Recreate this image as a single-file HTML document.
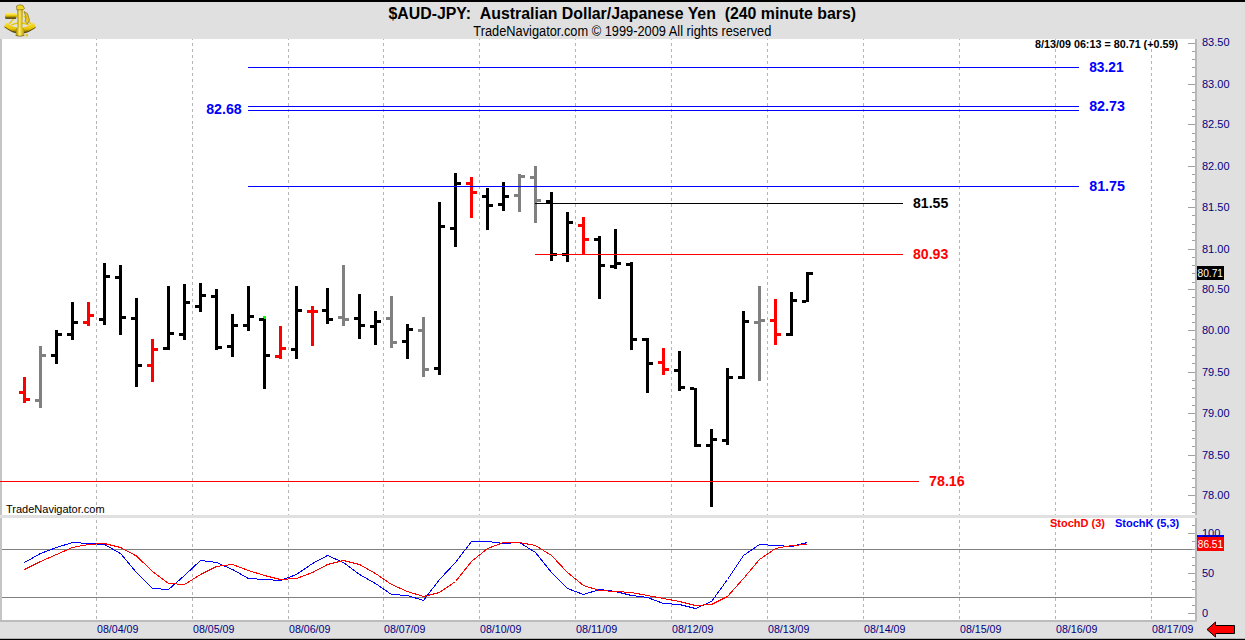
<!DOCTYPE html>
<html><head><meta charset="utf-8"><title>$AUD-JPY</title>
<style>
html,body{margin:0;padding:0;background:#e0e0e0;}
#root{position:relative;width:1245px;height:640px;overflow:hidden;background:#e0e0e0;}
svg{position:absolute;left:0;top:0;display:block;}
text{font-family:"Liberation Sans",Arial,sans-serif;white-space:pre;}
</style></head>
<body><div id="root">
<svg width="1245" height="640" viewBox="0 0 1245 640">
<g shape-rendering="crispEdges">
<rect x="0" y="0" width="1245" height="2" fill="#000"/>
<rect x="0" y="638.8" width="1245" height="1.2" fill="#000" shape-rendering="auto"/>
<rect x="2" y="39" width="1193" height="476" fill="#fff"/>
<rect x="2" y="518" width="1193" height="102" fill="#fff"/>
<rect x="0" y="39" width="2" height="581" fill="#c4c4c4"/>
<rect x="0" y="515" width="2" height="3" fill="#e0e0e0"/>
<rect x="1195" y="39" width="2" height="476" fill="#b8b8b8"/>
<rect x="1195" y="518" width="2" height="102" fill="#b8b8b8"/>
<rect x="0" y="620" width="1197" height="2" fill="#bcbcbc"/>
<path d="M96.5 39V40M96.5 43V46M96.5 49V52M96.5 55V58M96.5 61V64M96.5 67V70M96.5 73V76M96.5 79V82M96.5 85V88M96.5 91V94M96.5 97V100M96.5 103V106M96.5 109V112M96.5 115V118M96.5 121V124M96.5 126V129M96.5 132V135M96.5 138V141M96.5 144V147M96.5 150V153M96.5 156V159M96.5 162V165M96.5 168V171M96.5 174V177M96.5 180V183M96.5 186V189M96.5 192V195M96.5 198V201M96.5 204V207M96.5 210V213M96.5 216V219M96.5 222V225M96.5 228V231M96.5 234V237M96.5 240V243M96.5 246V249M96.5 252V255M96.5 258V261M96.5 264V267M96.5 270V273M96.5 276V279M96.5 282V285M96.5 288V291M96.5 293V296M96.5 299V302M96.5 305V308M96.5 311V314M96.5 317V320M96.5 323V326M96.5 329V332M96.5 335V338M96.5 341V344M96.5 347V350M96.5 353V356M96.5 359V362M96.5 365V368M96.5 371V374M96.5 377V380M96.5 383V386M96.5 389V392M96.5 395V398M96.5 401V404M96.5 407V410M96.5 413V416M96.5 419V422M96.5 425V428M96.5 431V434M96.5 437V440M96.5 443V446M96.5 449V452M96.5 455V458M96.5 460V463M96.5 466V469M96.5 472V475M96.5 478V481M96.5 484V487M96.5 490V493M96.5 496V499M96.5 502V505M96.5 508V511M96.5 514V515M96.5 520V523M96.5 526V529M96.5 532V535M96.5 538V541M96.5 544V547M96.5 550V553M96.5 556V559M96.5 562V565M96.5 568V571M96.5 574V577M96.5 580V583M96.5 586V589M96.5 592V595M96.5 598V601M96.5 604V607M96.5 610V613M96.5 616V619M192.5 39V40M192.5 43V46M192.5 49V52M192.5 55V58M192.5 61V64M192.5 67V70M192.5 73V76M192.5 79V82M192.5 85V88M192.5 91V94M192.5 97V100M192.5 103V106M192.5 109V112M192.5 115V118M192.5 121V124M192.5 126V129M192.5 132V135M192.5 138V141M192.5 144V147M192.5 150V153M192.5 156V159M192.5 162V165M192.5 168V171M192.5 174V177M192.5 180V183M192.5 186V189M192.5 192V195M192.5 198V201M192.5 204V207M192.5 210V213M192.5 216V219M192.5 222V225M192.5 228V231M192.5 234V237M192.5 240V243M192.5 246V249M192.5 252V255M192.5 258V261M192.5 264V267M192.5 270V273M192.5 276V279M192.5 282V285M192.5 288V291M192.5 293V296M192.5 299V302M192.5 305V308M192.5 311V314M192.5 317V320M192.5 323V326M192.5 329V332M192.5 335V338M192.5 341V344M192.5 347V350M192.5 353V356M192.5 359V362M192.5 365V368M192.5 371V374M192.5 377V380M192.5 383V386M192.5 389V392M192.5 395V398M192.5 401V404M192.5 407V410M192.5 413V416M192.5 419V422M192.5 425V428M192.5 431V434M192.5 437V440M192.5 443V446M192.5 449V452M192.5 455V458M192.5 460V463M192.5 466V469M192.5 472V475M192.5 478V481M192.5 484V487M192.5 490V493M192.5 496V499M192.5 502V505M192.5 508V511M192.5 514V515M192.5 520V523M192.5 526V529M192.5 532V535M192.5 538V541M192.5 544V547M192.5 550V553M192.5 556V559M192.5 562V565M192.5 568V571M192.5 574V577M192.5 580V583M192.5 586V589M192.5 592V595M192.5 598V601M192.5 604V607M192.5 610V613M192.5 616V619M288.5 39V40M288.5 43V46M288.5 49V52M288.5 55V58M288.5 61V64M288.5 67V70M288.5 73V76M288.5 79V82M288.5 85V88M288.5 91V94M288.5 97V100M288.5 103V106M288.5 109V112M288.5 115V118M288.5 121V124M288.5 126V129M288.5 132V135M288.5 138V141M288.5 144V147M288.5 150V153M288.5 156V159M288.5 162V165M288.5 168V171M288.5 174V177M288.5 180V183M288.5 186V189M288.5 192V195M288.5 198V201M288.5 204V207M288.5 210V213M288.5 216V219M288.5 222V225M288.5 228V231M288.5 234V237M288.5 240V243M288.5 246V249M288.5 252V255M288.5 258V261M288.5 264V267M288.5 270V273M288.5 276V279M288.5 282V285M288.5 288V291M288.5 293V296M288.5 299V302M288.5 305V308M288.5 311V314M288.5 317V320M288.5 323V326M288.5 329V332M288.5 335V338M288.5 341V344M288.5 347V350M288.5 353V356M288.5 359V362M288.5 365V368M288.5 371V374M288.5 377V380M288.5 383V386M288.5 389V392M288.5 395V398M288.5 401V404M288.5 407V410M288.5 413V416M288.5 419V422M288.5 425V428M288.5 431V434M288.5 437V440M288.5 443V446M288.5 449V452M288.5 455V458M288.5 460V463M288.5 466V469M288.5 472V475M288.5 478V481M288.5 484V487M288.5 490V493M288.5 496V499M288.5 502V505M288.5 508V511M288.5 514V515M288.5 520V523M288.5 526V529M288.5 532V535M288.5 538V541M288.5 544V547M288.5 550V553M288.5 556V559M288.5 562V565M288.5 568V571M288.5 574V577M288.5 580V583M288.5 586V589M288.5 592V595M288.5 598V601M288.5 604V607M288.5 610V613M288.5 616V619M383.5 39V40M383.5 43V46M383.5 49V52M383.5 55V58M383.5 61V64M383.5 67V70M383.5 73V76M383.5 79V82M383.5 85V88M383.5 91V94M383.5 97V100M383.5 103V106M383.5 109V112M383.5 115V118M383.5 121V124M383.5 126V129M383.5 132V135M383.5 138V141M383.5 144V147M383.5 150V153M383.5 156V159M383.5 162V165M383.5 168V171M383.5 174V177M383.5 180V183M383.5 186V189M383.5 192V195M383.5 198V201M383.5 204V207M383.5 210V213M383.5 216V219M383.5 222V225M383.5 228V231M383.5 234V237M383.5 240V243M383.5 246V249M383.5 252V255M383.5 258V261M383.5 264V267M383.5 270V273M383.5 276V279M383.5 282V285M383.5 288V291M383.5 293V296M383.5 299V302M383.5 305V308M383.5 311V314M383.5 317V320M383.5 323V326M383.5 329V332M383.5 335V338M383.5 341V344M383.5 347V350M383.5 353V356M383.5 359V362M383.5 365V368M383.5 371V374M383.5 377V380M383.5 383V386M383.5 389V392M383.5 395V398M383.5 401V404M383.5 407V410M383.5 413V416M383.5 419V422M383.5 425V428M383.5 431V434M383.5 437V440M383.5 443V446M383.5 449V452M383.5 455V458M383.5 460V463M383.5 466V469M383.5 472V475M383.5 478V481M383.5 484V487M383.5 490V493M383.5 496V499M383.5 502V505M383.5 508V511M383.5 514V515M383.5 520V523M383.5 526V529M383.5 532V535M383.5 538V541M383.5 544V547M383.5 550V553M383.5 556V559M383.5 562V565M383.5 568V571M383.5 574V577M383.5 580V583M383.5 586V589M383.5 592V595M383.5 598V601M383.5 604V607M383.5 610V613M383.5 616V619M479.5 39V40M479.5 43V46M479.5 49V52M479.5 55V58M479.5 61V64M479.5 67V70M479.5 73V76M479.5 79V82M479.5 85V88M479.5 91V94M479.5 97V100M479.5 103V106M479.5 109V112M479.5 115V118M479.5 121V124M479.5 126V129M479.5 132V135M479.5 138V141M479.5 144V147M479.5 150V153M479.5 156V159M479.5 162V165M479.5 168V171M479.5 174V177M479.5 180V183M479.5 186V189M479.5 192V195M479.5 198V201M479.5 204V207M479.5 210V213M479.5 216V219M479.5 222V225M479.5 228V231M479.5 234V237M479.5 240V243M479.5 246V249M479.5 252V255M479.5 258V261M479.5 264V267M479.5 270V273M479.5 276V279M479.5 282V285M479.5 288V291M479.5 293V296M479.5 299V302M479.5 305V308M479.5 311V314M479.5 317V320M479.5 323V326M479.5 329V332M479.5 335V338M479.5 341V344M479.5 347V350M479.5 353V356M479.5 359V362M479.5 365V368M479.5 371V374M479.5 377V380M479.5 383V386M479.5 389V392M479.5 395V398M479.5 401V404M479.5 407V410M479.5 413V416M479.5 419V422M479.5 425V428M479.5 431V434M479.5 437V440M479.5 443V446M479.5 449V452M479.5 455V458M479.5 460V463M479.5 466V469M479.5 472V475M479.5 478V481M479.5 484V487M479.5 490V493M479.5 496V499M479.5 502V505M479.5 508V511M479.5 514V515M479.5 520V523M479.5 526V529M479.5 532V535M479.5 538V541M479.5 544V547M479.5 550V553M479.5 556V559M479.5 562V565M479.5 568V571M479.5 574V577M479.5 580V583M479.5 586V589M479.5 592V595M479.5 598V601M479.5 604V607M479.5 610V613M479.5 616V619M575.5 39V40M575.5 43V46M575.5 49V52M575.5 55V58M575.5 61V64M575.5 67V70M575.5 73V76M575.5 79V82M575.5 85V88M575.5 91V94M575.5 97V100M575.5 103V106M575.5 109V112M575.5 115V118M575.5 121V124M575.5 126V129M575.5 132V135M575.5 138V141M575.5 144V147M575.5 150V153M575.5 156V159M575.5 162V165M575.5 168V171M575.5 174V177M575.5 180V183M575.5 186V189M575.5 192V195M575.5 198V201M575.5 204V207M575.5 210V213M575.5 216V219M575.5 222V225M575.5 228V231M575.5 234V237M575.5 240V243M575.5 246V249M575.5 252V255M575.5 258V261M575.5 264V267M575.5 270V273M575.5 276V279M575.5 282V285M575.5 288V291M575.5 293V296M575.5 299V302M575.5 305V308M575.5 311V314M575.5 317V320M575.5 323V326M575.5 329V332M575.5 335V338M575.5 341V344M575.5 347V350M575.5 353V356M575.5 359V362M575.5 365V368M575.5 371V374M575.5 377V380M575.5 383V386M575.5 389V392M575.5 395V398M575.5 401V404M575.5 407V410M575.5 413V416M575.5 419V422M575.5 425V428M575.5 431V434M575.5 437V440M575.5 443V446M575.5 449V452M575.5 455V458M575.5 460V463M575.5 466V469M575.5 472V475M575.5 478V481M575.5 484V487M575.5 490V493M575.5 496V499M575.5 502V505M575.5 508V511M575.5 514V515M575.5 520V523M575.5 526V529M575.5 532V535M575.5 538V541M575.5 544V547M575.5 550V553M575.5 556V559M575.5 562V565M575.5 568V571M575.5 574V577M575.5 580V583M575.5 586V589M575.5 592V595M575.5 598V601M575.5 604V607M575.5 610V613M575.5 616V619M671.5 39V40M671.5 43V46M671.5 49V52M671.5 55V58M671.5 61V64M671.5 67V70M671.5 73V76M671.5 79V82M671.5 85V88M671.5 91V94M671.5 97V100M671.5 103V106M671.5 109V112M671.5 115V118M671.5 121V124M671.5 126V129M671.5 132V135M671.5 138V141M671.5 144V147M671.5 150V153M671.5 156V159M671.5 162V165M671.5 168V171M671.5 174V177M671.5 180V183M671.5 186V189M671.5 192V195M671.5 198V201M671.5 204V207M671.5 210V213M671.5 216V219M671.5 222V225M671.5 228V231M671.5 234V237M671.5 240V243M671.5 246V249M671.5 252V255M671.5 258V261M671.5 264V267M671.5 270V273M671.5 276V279M671.5 282V285M671.5 288V291M671.5 293V296M671.5 299V302M671.5 305V308M671.5 311V314M671.5 317V320M671.5 323V326M671.5 329V332M671.5 335V338M671.5 341V344M671.5 347V350M671.5 353V356M671.5 359V362M671.5 365V368M671.5 371V374M671.5 377V380M671.5 383V386M671.5 389V392M671.5 395V398M671.5 401V404M671.5 407V410M671.5 413V416M671.5 419V422M671.5 425V428M671.5 431V434M671.5 437V440M671.5 443V446M671.5 449V452M671.5 455V458M671.5 460V463M671.5 466V469M671.5 472V475M671.5 478V481M671.5 484V487M671.5 490V493M671.5 496V499M671.5 502V505M671.5 508V511M671.5 514V515M671.5 520V523M671.5 526V529M671.5 532V535M671.5 538V541M671.5 544V547M671.5 550V553M671.5 556V559M671.5 562V565M671.5 568V571M671.5 574V577M671.5 580V583M671.5 586V589M671.5 592V595M671.5 598V601M671.5 604V607M671.5 610V613M671.5 616V619M767.5 39V40M767.5 43V46M767.5 49V52M767.5 55V58M767.5 61V64M767.5 67V70M767.5 73V76M767.5 79V82M767.5 85V88M767.5 91V94M767.5 97V100M767.5 103V106M767.5 109V112M767.5 115V118M767.5 121V124M767.5 126V129M767.5 132V135M767.5 138V141M767.5 144V147M767.5 150V153M767.5 156V159M767.5 162V165M767.5 168V171M767.5 174V177M767.5 180V183M767.5 186V189M767.5 192V195M767.5 198V201M767.5 204V207M767.5 210V213M767.5 216V219M767.5 222V225M767.5 228V231M767.5 234V237M767.5 240V243M767.5 246V249M767.5 252V255M767.5 258V261M767.5 264V267M767.5 270V273M767.5 276V279M767.5 282V285M767.5 288V291M767.5 293V296M767.5 299V302M767.5 305V308M767.5 311V314M767.5 317V320M767.5 323V326M767.5 329V332M767.5 335V338M767.5 341V344M767.5 347V350M767.5 353V356M767.5 359V362M767.5 365V368M767.5 371V374M767.5 377V380M767.5 383V386M767.5 389V392M767.5 395V398M767.5 401V404M767.5 407V410M767.5 413V416M767.5 419V422M767.5 425V428M767.5 431V434M767.5 437V440M767.5 443V446M767.5 449V452M767.5 455V458M767.5 460V463M767.5 466V469M767.5 472V475M767.5 478V481M767.5 484V487M767.5 490V493M767.5 496V499M767.5 502V505M767.5 508V511M767.5 514V515M767.5 520V523M767.5 526V529M767.5 532V535M767.5 538V541M767.5 544V547M767.5 550V553M767.5 556V559M767.5 562V565M767.5 568V571M767.5 574V577M767.5 580V583M767.5 586V589M767.5 592V595M767.5 598V601M767.5 604V607M767.5 610V613M767.5 616V619M863.5 39V40M863.5 43V46M863.5 49V52M863.5 55V58M863.5 61V64M863.5 67V70M863.5 73V76M863.5 79V82M863.5 85V88M863.5 91V94M863.5 97V100M863.5 103V106M863.5 109V112M863.5 115V118M863.5 121V124M863.5 126V129M863.5 132V135M863.5 138V141M863.5 144V147M863.5 150V153M863.5 156V159M863.5 162V165M863.5 168V171M863.5 174V177M863.5 180V183M863.5 186V189M863.5 192V195M863.5 198V201M863.5 204V207M863.5 210V213M863.5 216V219M863.5 222V225M863.5 228V231M863.5 234V237M863.5 240V243M863.5 246V249M863.5 252V255M863.5 258V261M863.5 264V267M863.5 270V273M863.5 276V279M863.5 282V285M863.5 288V291M863.5 293V296M863.5 299V302M863.5 305V308M863.5 311V314M863.5 317V320M863.5 323V326M863.5 329V332M863.5 335V338M863.5 341V344M863.5 347V350M863.5 353V356M863.5 359V362M863.5 365V368M863.5 371V374M863.5 377V380M863.5 383V386M863.5 389V392M863.5 395V398M863.5 401V404M863.5 407V410M863.5 413V416M863.5 419V422M863.5 425V428M863.5 431V434M863.5 437V440M863.5 443V446M863.5 449V452M863.5 455V458M863.5 460V463M863.5 466V469M863.5 472V475M863.5 478V481M863.5 484V487M863.5 490V493M863.5 496V499M863.5 502V505M863.5 508V511M863.5 514V515M863.5 520V523M863.5 526V529M863.5 532V535M863.5 538V541M863.5 544V547M863.5 550V553M863.5 556V559M863.5 562V565M863.5 568V571M863.5 574V577M863.5 580V583M863.5 586V589M863.5 592V595M863.5 598V601M863.5 604V607M863.5 610V613M863.5 616V619M959.5 39V40M959.5 43V46M959.5 49V52M959.5 55V58M959.5 61V64M959.5 67V70M959.5 73V76M959.5 79V82M959.5 85V88M959.5 91V94M959.5 97V100M959.5 103V106M959.5 109V112M959.5 115V118M959.5 121V124M959.5 126V129M959.5 132V135M959.5 138V141M959.5 144V147M959.5 150V153M959.5 156V159M959.5 162V165M959.5 168V171M959.5 174V177M959.5 180V183M959.5 186V189M959.5 192V195M959.5 198V201M959.5 204V207M959.5 210V213M959.5 216V219M959.5 222V225M959.5 228V231M959.5 234V237M959.5 240V243M959.5 246V249M959.5 252V255M959.5 258V261M959.5 264V267M959.5 270V273M959.5 276V279M959.5 282V285M959.5 288V291M959.5 293V296M959.5 299V302M959.5 305V308M959.5 311V314M959.5 317V320M959.5 323V326M959.5 329V332M959.5 335V338M959.5 341V344M959.5 347V350M959.5 353V356M959.5 359V362M959.5 365V368M959.5 371V374M959.5 377V380M959.5 383V386M959.5 389V392M959.5 395V398M959.5 401V404M959.5 407V410M959.5 413V416M959.5 419V422M959.5 425V428M959.5 431V434M959.5 437V440M959.5 443V446M959.5 449V452M959.5 455V458M959.5 460V463M959.5 466V469M959.5 472V475M959.5 478V481M959.5 484V487M959.5 490V493M959.5 496V499M959.5 502V505M959.5 508V511M959.5 514V515M959.5 520V523M959.5 526V529M959.5 532V535M959.5 538V541M959.5 544V547M959.5 550V553M959.5 556V559M959.5 562V565M959.5 568V571M959.5 574V577M959.5 580V583M959.5 586V589M959.5 592V595M959.5 598V601M959.5 604V607M959.5 610V613M959.5 616V619M1055.5 39V40M1055.5 43V46M1055.5 49V52M1055.5 55V58M1055.5 61V64M1055.5 67V70M1055.5 73V76M1055.5 79V82M1055.5 85V88M1055.5 91V94M1055.5 97V100M1055.5 103V106M1055.5 109V112M1055.5 115V118M1055.5 121V124M1055.5 126V129M1055.5 132V135M1055.5 138V141M1055.5 144V147M1055.5 150V153M1055.5 156V159M1055.5 162V165M1055.5 168V171M1055.5 174V177M1055.5 180V183M1055.5 186V189M1055.5 192V195M1055.5 198V201M1055.5 204V207M1055.5 210V213M1055.5 216V219M1055.5 222V225M1055.5 228V231M1055.5 234V237M1055.5 240V243M1055.5 246V249M1055.5 252V255M1055.5 258V261M1055.5 264V267M1055.5 270V273M1055.5 276V279M1055.5 282V285M1055.5 288V291M1055.5 293V296M1055.5 299V302M1055.5 305V308M1055.5 311V314M1055.5 317V320M1055.5 323V326M1055.5 329V332M1055.5 335V338M1055.5 341V344M1055.5 347V350M1055.5 353V356M1055.5 359V362M1055.5 365V368M1055.5 371V374M1055.5 377V380M1055.5 383V386M1055.5 389V392M1055.5 395V398M1055.5 401V404M1055.5 407V410M1055.5 413V416M1055.5 419V422M1055.5 425V428M1055.5 431V434M1055.5 437V440M1055.5 443V446M1055.5 449V452M1055.5 455V458M1055.5 460V463M1055.5 466V469M1055.5 472V475M1055.5 478V481M1055.5 484V487M1055.5 490V493M1055.5 496V499M1055.5 502V505M1055.5 508V511M1055.5 514V515M1055.5 520V523M1055.5 526V529M1055.5 532V535M1055.5 538V541M1055.5 544V547M1055.5 550V553M1055.5 556V559M1055.5 562V565M1055.5 568V571M1055.5 574V577M1055.5 580V583M1055.5 586V589M1055.5 592V595M1055.5 598V601M1055.5 604V607M1055.5 610V613M1055.5 616V619M1151.5 39V40M1151.5 43V46M1151.5 49V52M1151.5 55V58M1151.5 61V64M1151.5 67V70M1151.5 73V76M1151.5 79V82M1151.5 85V88M1151.5 91V94M1151.5 97V100M1151.5 103V106M1151.5 109V112M1151.5 115V118M1151.5 121V124M1151.5 126V129M1151.5 132V135M1151.5 138V141M1151.5 144V147M1151.5 150V153M1151.5 156V159M1151.5 162V165M1151.5 168V171M1151.5 174V177M1151.5 180V183M1151.5 186V189M1151.5 192V195M1151.5 198V201M1151.5 204V207M1151.5 210V213M1151.5 216V219M1151.5 222V225M1151.5 228V231M1151.5 234V237M1151.5 240V243M1151.5 246V249M1151.5 252V255M1151.5 258V261M1151.5 264V267M1151.5 270V273M1151.5 276V279M1151.5 282V285M1151.5 288V291M1151.5 293V296M1151.5 299V302M1151.5 305V308M1151.5 311V314M1151.5 317V320M1151.5 323V326M1151.5 329V332M1151.5 335V338M1151.5 341V344M1151.5 347V350M1151.5 353V356M1151.5 359V362M1151.5 365V368M1151.5 371V374M1151.5 377V380M1151.5 383V386M1151.5 389V392M1151.5 395V398M1151.5 401V404M1151.5 407V410M1151.5 413V416M1151.5 419V422M1151.5 425V428M1151.5 431V434M1151.5 437V440M1151.5 443V446M1151.5 449V452M1151.5 455V458M1151.5 460V463M1151.5 466V469M1151.5 472V475M1151.5 478V481M1151.5 484V487M1151.5 490V493M1151.5 496V499M1151.5 502V505M1151.5 508V511M1151.5 514V515M1151.5 520V523M1151.5 526V529M1151.5 532V535M1151.5 538V541M1151.5 544V547M1151.5 550V553M1151.5 556V559M1151.5 562V565M1151.5 568V571M1151.5 574V577M1151.5 580V583M1151.5 586V589M1151.5 592V595M1151.5 598V601M1151.5 604V607M1151.5 610V613M1151.5 616V619" stroke="#b4b4b4" stroke-width="1" fill="none"/>
<path d="M1188 43.5H1195M1192 51.5H1195M1192 59.5H1195M1192 67.5H1195M1192 76.5H1195M1188 84.5H1195M1192 92.5H1195M1192 100.5H1195M1192 109.5H1195M1192 116.5H1195M1188 124.5H1195M1192 133.5H1195M1192 141.5H1195M1192 149.5H1195M1192 157.5H1195M1188 166.5H1195M1192 174.5H1195M1192 182.5H1195M1192 191.5H1195M1192 199.5H1195M1188 207.5H1195M1192 215.5H1195M1192 224.5H1195M1192 232.5H1195M1192 240.5H1195M1188 249.5H1195M1192 257.5H1195M1192 265.5H1195M1192 273.5H1195M1192 282.5H1195M1188 289.5H1195M1192 297.5H1195M1192 306.5H1195M1192 314.5H1195M1192 322.5H1195M1188 330.5H1195M1192 339.5H1195M1192 347.5H1195M1192 355.5H1195M1192 363.5H1195M1188 372.5H1195M1192 380.5H1195M1192 388.5H1195M1192 397.5H1195M1192 405.5H1195M1188 413.5H1195M1192 421.5H1195M1192 430.5H1195M1192 438.5H1195M1192 446.5H1195M1188 455.5H1195M1192 462.5H1195M1192 470.5H1195M1192 478.5H1195M1192 487.5H1195M1188 495.5H1195M1192 503.5H1195M1192 512.5H1195M1188 613.5H1195M1192 605.5H1195M1192 597.5H1195M1192 589.5H1195M1192 581.5H1195M1188 573.5H1195M1192 565.5H1195M1192 557.5H1195M1192 549.5H1195M1192 541.5H1195M1188 533.5H1195M1192 525.5H1195" stroke="#a0a0a0" stroke-width="1" fill="none"/>
<rect x="2" y="549" width="1190" height="1" fill="#808080"/>
<rect x="2" y="597" width="1190" height="1" fill="#808080"/>
<rect x="23" y="377" width="3" height="26" fill="#ff0000"/>
<rect x="19" y="391" width="4" height="3" fill="#ff0000"/>
<rect x="26" y="398" width="4" height="3" fill="#ff0000"/>
<rect x="39" y="346" width="3" height="62" fill="#808080"/>
<rect x="35" y="399" width="4" height="3" fill="#808080"/>
<rect x="42" y="354" width="4" height="3" fill="#808080"/>
<rect x="55" y="330" width="3" height="34" fill="#000000"/>
<rect x="51" y="354" width="4" height="3" fill="#000000"/>
<rect x="58" y="333" width="4" height="3" fill="#000000"/>
<rect x="71" y="302" width="3" height="38" fill="#000000"/>
<rect x="67" y="333" width="4" height="3" fill="#000000"/>
<rect x="74" y="321" width="4" height="3" fill="#000000"/>
<rect x="87" y="302" width="3" height="24" fill="#ff0000"/>
<rect x="83" y="321" width="4" height="3" fill="#ff0000"/>
<rect x="90" y="314" width="4" height="3" fill="#ff0000"/>
<rect x="103" y="263" width="3" height="62" fill="#000000"/>
<rect x="99" y="318" width="4" height="3" fill="#000000"/>
<rect x="106" y="275" width="4" height="3" fill="#000000"/>
<rect x="119" y="265" width="3" height="70" fill="#000000"/>
<rect x="115" y="276" width="4" height="3" fill="#000000"/>
<rect x="122" y="316" width="4" height="3" fill="#000000"/>
<rect x="135" y="298" width="3" height="89" fill="#000000"/>
<rect x="131" y="317" width="4" height="3" fill="#000000"/>
<rect x="138" y="364" width="4" height="3" fill="#000000"/>
<rect x="151" y="339" width="3" height="43" fill="#ff0000"/>
<rect x="147" y="364" width="4" height="3" fill="#ff0000"/>
<rect x="154" y="348" width="4" height="3" fill="#ff0000"/>
<rect x="167" y="286" width="3" height="64" fill="#000000"/>
<rect x="163" y="347" width="4" height="3" fill="#000000"/>
<rect x="170" y="332" width="4" height="3" fill="#000000"/>
<rect x="183" y="284" width="3" height="56" fill="#000000"/>
<rect x="179" y="333" width="4" height="3" fill="#000000"/>
<rect x="186" y="301" width="4" height="3" fill="#000000"/>
<rect x="199" y="283" width="3" height="29" fill="#000000"/>
<rect x="195" y="305" width="4" height="3" fill="#000000"/>
<rect x="202" y="294" width="4" height="3" fill="#000000"/>
<rect x="215" y="289" width="3" height="61" fill="#000000"/>
<rect x="211" y="295" width="4" height="3" fill="#000000"/>
<rect x="218" y="346" width="4" height="3" fill="#000000"/>
<rect x="231" y="314" width="3" height="43" fill="#000000"/>
<rect x="227" y="345" width="4" height="3" fill="#000000"/>
<rect x="234" y="324" width="4" height="3" fill="#000000"/>
<rect x="247" y="286" width="3" height="45" fill="#000000"/>
<rect x="243" y="324" width="4" height="3" fill="#000000"/>
<rect x="250" y="315" width="4" height="3" fill="#000000"/>
<rect x="263" y="316" width="3" height="73" fill="#000000"/>
<rect x="259" y="318" width="4" height="3" fill="#000000"/>
<rect x="266" y="354" width="4" height="3" fill="#000000"/>
<rect x="279" y="326" width="3" height="33" fill="#ff0000"/>
<rect x="275" y="355" width="4" height="3" fill="#ff0000"/>
<rect x="282" y="347" width="4" height="3" fill="#ff0000"/>
<rect x="295" y="286" width="3" height="73" fill="#000000"/>
<rect x="291" y="348" width="4" height="3" fill="#000000"/>
<rect x="298" y="309" width="4" height="3" fill="#000000"/>
<rect x="311" y="306" width="3" height="40" fill="#ff0000"/>
<rect x="307" y="310" width="4" height="3" fill="#ff0000"/>
<rect x="314" y="310" width="4" height="3" fill="#ff0000"/>
<rect x="326" y="288" width="3" height="36" fill="#000000"/>
<rect x="322" y="309" width="4" height="3" fill="#000000"/>
<rect x="329" y="318" width="4" height="3" fill="#000000"/>
<rect x="342" y="265" width="3" height="61" fill="#808080"/>
<rect x="338" y="316" width="4" height="3" fill="#808080"/>
<rect x="345" y="318" width="4" height="3" fill="#808080"/>
<rect x="358" y="294" width="3" height="45" fill="#000000"/>
<rect x="354" y="317" width="4" height="3" fill="#000000"/>
<rect x="361" y="324" width="4" height="3" fill="#000000"/>
<rect x="374" y="311" width="3" height="34" fill="#000000"/>
<rect x="370" y="325" width="4" height="3" fill="#000000"/>
<rect x="377" y="320" width="4" height="3" fill="#000000"/>
<rect x="390" y="296" width="3" height="52" fill="#808080"/>
<rect x="386" y="317" width="4" height="3" fill="#808080"/>
<rect x="393" y="341" width="4" height="3" fill="#808080"/>
<rect x="406" y="324" width="3" height="35" fill="#000000"/>
<rect x="402" y="340" width="4" height="3" fill="#000000"/>
<rect x="409" y="328" width="4" height="3" fill="#000000"/>
<rect x="422" y="317" width="3" height="60" fill="#808080"/>
<rect x="418" y="329" width="4" height="3" fill="#808080"/>
<rect x="425" y="368" width="4" height="3" fill="#808080"/>
<rect x="438" y="202" width="3" height="173" fill="#000000"/>
<rect x="434" y="367" width="4" height="3" fill="#000000"/>
<rect x="441" y="225" width="4" height="3" fill="#000000"/>
<rect x="454" y="173" width="3" height="74" fill="#000000"/>
<rect x="450" y="227" width="4" height="3" fill="#000000"/>
<rect x="457" y="182" width="4" height="3" fill="#000000"/>
<rect x="470" y="177" width="3" height="41" fill="#ff0000"/>
<rect x="466" y="182" width="4" height="3" fill="#ff0000"/>
<rect x="473" y="191" width="4" height="3" fill="#ff0000"/>
<rect x="486" y="188" width="3" height="42" fill="#000000"/>
<rect x="482" y="195" width="4" height="3" fill="#000000"/>
<rect x="489" y="204" width="4" height="3" fill="#000000"/>
<rect x="502" y="182" width="3" height="29" fill="#000000"/>
<rect x="498" y="203" width="4" height="3" fill="#000000"/>
<rect x="505" y="195" width="4" height="3" fill="#000000"/>
<rect x="518" y="174" width="3" height="38" fill="#808080"/>
<rect x="514" y="194" width="4" height="3" fill="#808080"/>
<rect x="521" y="175" width="4" height="3" fill="#808080"/>
<rect x="534" y="166" width="3" height="57" fill="#808080"/>
<rect x="530" y="176" width="4" height="3" fill="#808080"/>
<rect x="537" y="199" width="4" height="3" fill="#808080"/>
<rect x="550" y="192" width="3" height="69" fill="#000000"/>
<rect x="546" y="200" width="4" height="3" fill="#000000"/>
<rect x="553" y="253" width="4" height="3" fill="#000000"/>
<rect x="566" y="212" width="3" height="50" fill="#000000"/>
<rect x="562" y="253" width="4" height="3" fill="#000000"/>
<rect x="569" y="221" width="4" height="3" fill="#000000"/>
<rect x="582" y="217" width="3" height="37" fill="#ff0000"/>
<rect x="578" y="224" width="4" height="3" fill="#ff0000"/>
<rect x="585" y="238" width="4" height="3" fill="#ff0000"/>
<rect x="598" y="236" width="3" height="63" fill="#000000"/>
<rect x="594" y="238" width="4" height="3" fill="#000000"/>
<rect x="601" y="264" width="4" height="3" fill="#000000"/>
<rect x="614" y="229" width="3" height="40" fill="#000000"/>
<rect x="610" y="265" width="4" height="3" fill="#000000"/>
<rect x="617" y="262" width="4" height="3" fill="#000000"/>
<rect x="630" y="262" width="3" height="88" fill="#000000"/>
<rect x="626" y="263" width="4" height="3" fill="#000000"/>
<rect x="633" y="338" width="4" height="3" fill="#000000"/>
<rect x="646" y="338" width="3" height="55" fill="#000000"/>
<rect x="642" y="338" width="4" height="3" fill="#000000"/>
<rect x="649" y="362" width="4" height="3" fill="#000000"/>
<rect x="662" y="348" width="3" height="27" fill="#ff0000"/>
<rect x="658" y="361" width="4" height="3" fill="#ff0000"/>
<rect x="665" y="368" width="4" height="3" fill="#ff0000"/>
<rect x="678" y="351" width="3" height="40" fill="#000000"/>
<rect x="674" y="369" width="4" height="3" fill="#000000"/>
<rect x="681" y="386" width="4" height="3" fill="#000000"/>
<rect x="694" y="388" width="3" height="59" fill="#000000"/>
<rect x="690" y="387" width="4" height="3" fill="#000000"/>
<rect x="697" y="444" width="4" height="3" fill="#000000"/>
<rect x="710" y="429" width="3" height="78" fill="#000000"/>
<rect x="706" y="444" width="4" height="3" fill="#000000"/>
<rect x="713" y="438" width="4" height="3" fill="#000000"/>
<rect x="726" y="368" width="3" height="77" fill="#000000"/>
<rect x="722" y="439" width="4" height="3" fill="#000000"/>
<rect x="729" y="376" width="4" height="3" fill="#000000"/>
<rect x="742" y="311" width="3" height="68" fill="#000000"/>
<rect x="738" y="376" width="4" height="3" fill="#000000"/>
<rect x="745" y="320" width="4" height="3" fill="#000000"/>
<rect x="758" y="286" width="3" height="95" fill="#808080"/>
<rect x="754" y="321" width="4" height="3" fill="#808080"/>
<rect x="761" y="319" width="4" height="3" fill="#808080"/>
<rect x="774" y="299" width="3" height="46" fill="#ff0000"/>
<rect x="770" y="319" width="4" height="3" fill="#ff0000"/>
<rect x="777" y="333" width="4" height="3" fill="#ff0000"/>
<rect x="790" y="292" width="3" height="44" fill="#000000"/>
<rect x="786" y="333" width="4" height="3" fill="#000000"/>
<rect x="793" y="299" width="4" height="3" fill="#000000"/>
<rect x="806" y="272" width="3" height="30" fill="#000000"/>
<rect x="802" y="300" width="4" height="3" fill="#000000"/>
<rect x="809" y="272" width="4" height="3" fill="#000000"/>
<rect x="263" y="316" width="3" height="3" fill="#00ff00"/>
<rect x="263" y="318" width="1" height="1" fill="#000"/>
<rect x="248" y="67" width="831" height="1" fill="#0000ff"/>
<rect x="248" y="106" width="831" height="1" fill="#0000ff"/>
<rect x="248" y="110" width="831" height="1" fill="#0000ff"/>
<rect x="248" y="186" width="831" height="1" fill="#0000ff"/>
<rect x="535" y="203" width="368" height="1" fill="#000000"/>
<rect x="535" y="254" width="368" height="1" fill="#ff0000"/>
<rect x="0" y="481" width="919" height="1" fill="#ff0000"/>
<polyline points="24.5,562.5 40.5,553.5 56.5,547.5 72.5,542.5 88.5,543.5 104.5,544.5 120.5,553.5 136.5,572.5 152.5,588.5 168.5,589.5 184.5,575.5 200.5,560.5 216.5,562.5 232.5,569.5 248.5,578.5 264.5,579.5 280.5,580.5 296.5,574.5 312.5,563.5 327.5,555.5 343.5,562.5 359.5,574.5 375.5,583.5 391.5,594.5 407.5,595.5 423.5,600.5 439.5,579.5 455.5,562.5 471.5,541.5 487.5,541.5 503.5,543.5 519.5,542.5 535.5,552.5 551.5,572.5 567.5,588.5 583.5,594.5 599.5,589.5 615.5,591.5 631.5,595.5 647.5,597.5 663.5,603.5 679.5,604.5 695.5,608.5 711.5,601.5 727.5,579.5 743.5,555.5 759.5,544.5 775.5,545.5 791.5,546.5 807.5,542.5" stroke="#0000ff" stroke-width="1" fill="none"/>
<polyline points="24.5,569.5 40.5,561.5 56.5,554.5 72.5,547.5 88.5,544.5 104.5,543.5 120.5,547.5 136.5,556.0 152.5,571.5 168.5,583.5 184.5,584.5 200.5,574.5 216.5,566.5 232.5,564.5 248.5,570.5 264.5,575.5 280.5,579.5 296.5,578.5 312.5,572.5 327.5,564.5 343.5,560.5 359.5,564.5 375.5,573.5 391.5,584.5 407.5,591.5 423.5,596.5 439.5,592.5 455.5,581.5 471.5,561.5 487.5,548.5 503.5,542.5 519.5,542.5 535.5,545.5 551.5,555.5 567.5,572.5 583.5,585.5 599.5,590.5 615.5,591.5 631.5,592.5 647.5,595.5 663.5,598.5 679.5,601.5 695.5,605.5 711.5,604.5 727.5,596.5 743.5,578.5 759.5,559.5 775.5,548.5 791.5,545.5 807.5,544.5" stroke="#ff0000" stroke-width="1" fill="none"/>
<rect x="1197" y="535" width="27" height="14" fill="#0000ff"/>
<rect x="1197" y="537" width="27" height="14" fill="#ff0000"/>
<rect x="1197" y="266" width="27" height="14" fill="#000000"/>
<polygon points="1207,629.5 1215.5,622 1215.5,625.5 1234.5,625.5 1234.5,633.5 1215.5,633.5 1215.5,637" fill="#ff0000" stroke="#000" stroke-width="1" shape-rendering="auto"/>
</g>
<g>
<defs>
<linearGradient id="gd" x1="0" y1="0" x2="0" y2="1"><stop offset="0" stop-color="#fff47a"/><stop offset="0.45" stop-color="#ecca10"/><stop offset="1" stop-color="#5c4800"/></linearGradient>
<linearGradient id="ga" x1="0" y1="0" x2="0" y2="1"><stop offset="0" stop-color="#f8e040"/><stop offset="0.6" stop-color="#e8c400"/><stop offset="1" stop-color="#4a3800"/></linearGradient>
<linearGradient id="gh" x1="0" y1="0" x2="1" y2="0"><stop offset="0" stop-color="#a08000"/><stop offset="0.45" stop-color="#fff060"/><stop offset="1" stop-color="#b89400"/></linearGradient>
</defs>
<path d="M9 24 L17 15 M31 24 L24 16 M11 25 Q20 21 29 25" stroke="#e8c800" stroke-width="1.3" fill="none"/>
<path d="M4 26.5 Q20 40 36 27 L33.5 22.5 Q20 33 6.5 22.5 Z" fill="url(#ga)"/>
<path d="M4.5 27 Q20 39.5 35.5 27.5" stroke="#3a2c00" stroke-width="1" fill="none" opacity="0.8"/>
<rect x="5" y="13" width="11.5" height="5.5" rx="1.2" fill="url(#gd)"/>
<path d="M5.5 18.3 H16" stroke="#3a2c00" stroke-width="0.8"/>
<path d="M24 11.5 L27.5 13.5 L29.5 20 L27.5 24 L25 21.5 L26 17 Z" fill="#e8c820" stroke="#6a5000" stroke-width="0.5"/>
<path d="M17.2 9 L22.8 9 L22.3 29 L17.7 29 Z" fill="url(#gh)"/>
<path d="M16.5 6 Q19.5 3.8 23 5.5 L24.5 8.5 L23 9.8 L16.8 9.8 Z" fill="#f0d428" stroke="#5a4400" stroke-width="0.5"/>
<path d="M16 28 L24 28 L24.3 35.5 Q20 37 15.7 35.5 Z" fill="url(#gh)"/>
<path d="M15.7 35.5 Q20 37 24.3 35.5" stroke="#5a4400" stroke-width="0.6" fill="none"/>
<rect x="25.5" y="34" width="2.5" height="2.5" fill="#e8c820"/>
</g>
<text x="388.5" y="19" font-size="16" fill="#000" font-weight="bold" text-anchor="start" textLength="467.5" lengthAdjust="spacingAndGlyphs">$AUD-JPY:  Australian Dollar/Japanese Yen  (240 minute bars)</text>
<text x="473.3" y="36" font-size="13.8" fill="#000" font-weight="normal" text-anchor="start" textLength="298" lengthAdjust="spacingAndGlyphs">TradeNavigator.com © 1999-2009 All rights reserved</text>
<text x="1035" y="48" font-size="11" fill="#000" font-weight="bold" text-anchor="start" textLength="143" lengthAdjust="spacingAndGlyphs">8/13/09 06:13 = 80.71 (+0.59)</text>
<text x="1202" y="46" font-size="11" fill="#000080" font-weight="normal" text-anchor="start">83.50</text>
<text x="1202" y="88" font-size="11" fill="#000080" font-weight="normal" text-anchor="start">83.00</text>
<text x="1202" y="128" font-size="11" fill="#000080" font-weight="normal" text-anchor="start">82.50</text>
<text x="1202" y="170" font-size="11" fill="#000080" font-weight="normal" text-anchor="start">82.00</text>
<text x="1202" y="211" font-size="11" fill="#000080" font-weight="normal" text-anchor="start">81.50</text>
<text x="1202" y="253" font-size="11" fill="#000080" font-weight="normal" text-anchor="start">81.00</text>
<text x="1202" y="293" font-size="11" fill="#000080" font-weight="normal" text-anchor="start">80.50</text>
<text x="1202" y="334" font-size="11" fill="#000080" font-weight="normal" text-anchor="start">80.00</text>
<text x="1202" y="376" font-size="11" fill="#000080" font-weight="normal" text-anchor="start">79.50</text>
<text x="1202" y="417" font-size="11" fill="#000080" font-weight="normal" text-anchor="start">79.00</text>
<text x="1202" y="459" font-size="11" fill="#000080" font-weight="normal" text-anchor="start">78.50</text>
<text x="1202" y="499" font-size="11" fill="#000080" font-weight="normal" text-anchor="start">78.00</text>
<text x="1202" y="537" font-size="11" fill="#000080" font-weight="normal" text-anchor="start">100</text>
<text x="1202" y="577" font-size="11" fill="#000080" font-weight="normal" text-anchor="start">50</text>
<text x="1202" y="617" font-size="11" fill="#000080" font-weight="normal" text-anchor="start">0</text>
<text x="97" y="633" font-size="11" fill="#000080" font-weight="normal" text-anchor="start" textLength="41.3" lengthAdjust="spacingAndGlyphs">08/04/09</text>
<text x="193" y="633" font-size="11" fill="#000080" font-weight="normal" text-anchor="start" textLength="41.3" lengthAdjust="spacingAndGlyphs">08/05/09</text>
<text x="289" y="633" font-size="11" fill="#000080" font-weight="normal" text-anchor="start" textLength="41.3" lengthAdjust="spacingAndGlyphs">08/06/09</text>
<text x="384" y="633" font-size="11" fill="#000080" font-weight="normal" text-anchor="start" textLength="41.3" lengthAdjust="spacingAndGlyphs">08/07/09</text>
<text x="480" y="633" font-size="11" fill="#000080" font-weight="normal" text-anchor="start" textLength="41.3" lengthAdjust="spacingAndGlyphs">08/10/09</text>
<text x="576" y="633" font-size="11" fill="#000080" font-weight="normal" text-anchor="start" textLength="41.3" lengthAdjust="spacingAndGlyphs">08/11/09</text>
<text x="672" y="633" font-size="11" fill="#000080" font-weight="normal" text-anchor="start" textLength="41.3" lengthAdjust="spacingAndGlyphs">08/12/09</text>
<text x="768" y="633" font-size="11" fill="#000080" font-weight="normal" text-anchor="start" textLength="41.3" lengthAdjust="spacingAndGlyphs">08/13/09</text>
<text x="864" y="633" font-size="11" fill="#000080" font-weight="normal" text-anchor="start" textLength="41.3" lengthAdjust="spacingAndGlyphs">08/14/09</text>
<text x="960" y="633" font-size="11" fill="#000080" font-weight="normal" text-anchor="start" textLength="41.3" lengthAdjust="spacingAndGlyphs">08/15/09</text>
<text x="1056" y="633" font-size="11" fill="#000080" font-weight="normal" text-anchor="start" textLength="41.3" lengthAdjust="spacingAndGlyphs">08/16/09</text>
<text x="1152" y="633" font-size="11" fill="#000080" font-weight="normal" text-anchor="start" textLength="41.3" lengthAdjust="spacingAndGlyphs">08/17/09</text>
<text x="1089.2" y="72" font-size="15.3" fill="#0000ff" font-weight="bold" text-anchor="start" textLength="34.4" lengthAdjust="spacingAndGlyphs">83.21</text>
<text x="1089.2" y="111" font-size="15.3" fill="#0000ff" font-weight="bold" text-anchor="start" textLength="35.7" lengthAdjust="spacingAndGlyphs">82.73</text>
<text x="206.2" y="114" font-size="15.3" fill="#0000ff" font-weight="bold" text-anchor="start" textLength="35.5" lengthAdjust="spacingAndGlyphs">82.68</text>
<text x="1089.2" y="191" font-size="15.3" fill="#0000ff" font-weight="bold" text-anchor="start" textLength="35.8" lengthAdjust="spacingAndGlyphs">81.75</text>
<text x="913.0" y="208" font-size="15.3" fill="#000" font-weight="bold" text-anchor="start" textLength="35.3" lengthAdjust="spacingAndGlyphs">81.55</text>
<text x="913.0" y="259" font-size="15.3" fill="#ff0000" font-weight="bold" text-anchor="start" textLength="35.3" lengthAdjust="spacingAndGlyphs">80.93</text>
<text x="929.1" y="486" font-size="15.3" fill="#ff0000" font-weight="bold" text-anchor="start" textLength="35.6" lengthAdjust="spacingAndGlyphs">78.16</text>
<text x="6" y="513" font-size="11" fill="#000" font-weight="normal" text-anchor="start">TradeNavigator.com</text>
<text x="1050" y="527" font-size="11" fill="#ff0000" font-weight="bold" text-anchor="start">StochD (3)</text>
<text x="1115" y="527" font-size="11" fill="#0000ff" font-weight="bold" text-anchor="start">StochK (5,3)</text>
<text x="1197.5" y="277" font-size="11" fill="#fff" font-weight="normal" text-anchor="start" textLength="25.5" lengthAdjust="spacingAndGlyphs">80.71</text>
<text x="1197.8" y="548" font-size="11" fill="#fff" font-weight="normal" text-anchor="start" textLength="25.3" lengthAdjust="spacingAndGlyphs">86.51</text>
</svg>
</div></body></html>
